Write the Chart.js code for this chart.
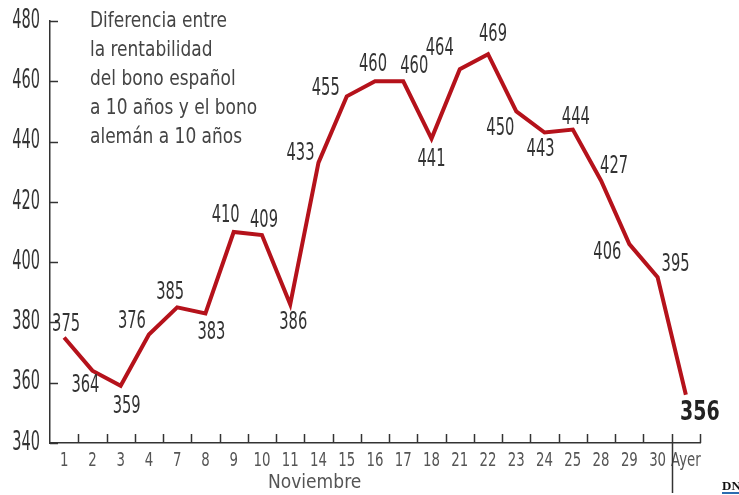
<!DOCTYPE html>
<html>
<head>
<meta charset="utf-8">
<script src="https://cdn.jsdelivr.net/npm/chart.js@4/dist/chart.umd.min.js"></script>
<style>
  html, body { margin: 0; padding: 0; background: #fff; }
  #wrap { position: relative; width: 739px; height: 495px; }
  .cond {
    position: absolute; white-space: nowrap; transform-origin: 0 0;
    font-family: 'DejaVu Sans Condensed', 'Liberation Sans Narrow', sans-serif;
  }
  #nota { left: 90px; top: 6px; font-size: 21px; line-height: 29px; color: #444; transform: scaleX(0.9); }
  #mes { left: 268px; top: 469px; font-size: 20px; color: #555; transform: scaleX(0.95); }
  #logo {
    position: absolute; left: 722px; top: 479px;
    font-family: 'Liberation Serif', serif; font-weight: bold; font-size: 13px;
    color: #111; border-bottom: 2px solid #2b6cb0; line-height: 13px;
  }
</style>
</head>
<body>
<div id="wrap">
  <canvas id="chart" width="739" height="495"></canvas>
  <div id="nota" class="cond">Diferencia entre<br>la rentabilidad<br>del bono español<br>a 10 años y el bono<br>alemán a 10 años</div>
  <div id="mes" class="cond">Noviembre</div>
  <div id="logo">DN</div>
</div>
<script>
const dias = ['1','2','3','4','7','8','9','10','11','14','15','16','17','18','21','22','23','24','25','28','29','30','Ayer'];
const diferencial = [375,364,359,376,385,383,410,409,386,433,455,460,460,441,464,469,450,443,444,427,406,395,356];
const yTicks = [340,360,380,400,420,440,460,480];

// desplazamiento de cada etiqueta respecto a su punto
const labelOffsets = [
  [2,-13],[-7,15],[6,21],[-17,-13],[-7,-15],[6,19],[-8,-16],[2,-14],[3,18],[-18,-9],
  [-21,-8],[-2,-17],[11,-15],[0,21],[-20,-20],[5,-19],[-16,17],[-4,17],[3,-12],[13,-14],
  [-22,9],[18,-12],[14,18]
];

const FONT = "'DejaVu Sans Condensed', 'Liberation Sans Narrow', sans-serif";
const ROJO = '#b5121b';

// texto estrechado (la fuente original es muy condensada)
function condText(ctx, txt, x, y, font, color, sx, align) {
  ctx.save();
  ctx.font = font;
  ctx.fillStyle = color;
  ctx.textAlign = align;
  ctx.textBaseline = 'middle';
  ctx.translate(x, y);
  ctx.scale(sx, 1);
  ctx.fillText(txt, 0, 0);
  ctx.restore();
}

const decor = {
  id: 'decor',
  afterDatasetsDraw(chart) {
    const ctx = chart.ctx;
    const x = chart.scales.x, y = chart.scales.y;
    const area = chart.chartArea;
    ctx.save();
    ctx.strokeStyle = '#333';
    ctx.lineWidth = 1.5;
    // ticks y hacia dentro + etiquetas
    y.ticks.forEach((t, i) => {
      const py = y.getPixelForTick(i);
      ctx.beginPath();
      ctx.moveTo(area.left, Math.round(py) + 0.5);
      ctx.lineTo(area.left + 8, Math.round(py) + 0.5);
      ctx.stroke();
      condText(ctx, String(t.value), 40, py, '26px ' + FONT, '#333', 0.62, 'right');
    });
    // ticks x entre categorias + etiquetas
    const w = (x.getPixelForValue(1) - x.getPixelForValue(0));
    for (let i = 1; i <= dias.length; i++) {
      const px = Math.round(x.getPixelForValue(i) - w / 2) + 0.5;
      ctx.beginPath();
      ctx.moveTo(px, area.bottom - 9);
      ctx.lineTo(px, area.bottom);
      ctx.stroke();
    }
    dias.forEach((d, i) => {
      condText(ctx, d, x.getPixelForValue(i), area.bottom + 18, '20px ' + FONT, '#555', 0.74, 'center');
    });
    // separador de "Ayer"
    const sep = Math.round(x.getPixelForValue(dias.length - 1) - w / 2) + 0.5;
    ctx.beginPath();
    ctx.moveTo(sep, area.bottom);
    ctx.lineTo(sep, area.bottom + 50);
    ctx.stroke();

    // etiquetas de valores
    const meta = chart.getDatasetMeta(0);
    meta.data.forEach((pt, i) => {
      const last = i === diferencial.length - 1;
      const [dx, dy] = labelOffsets[i];
      if (last) condText(ctx, String(diferencial[i]), pt.x + dx, pt.y + dy, 'bold 27px ' + FONT, '#222', 0.78, 'center');
      else condText(ctx, String(diferencial[i]), pt.x + dx, pt.y + dy, '24px ' + FONT, '#333', 0.68, 'center');
    });
    ctx.restore();
  }
};

new Chart(document.getElementById('chart'), {
  type: 'line',
  data: {
    labels: dias,
    datasets: [{
      data: diferencial,
      borderColor: ROJO,
      borderWidth: 4,
      pointRadius: 0,
      tension: 0,
      borderJoinStyle: 'miter',
      borderCapStyle: 'butt'
    }]
  },
  options: {
    responsive: false,
    animation: false,
    layout: { padding: { top: 21, right: 39, left: 0, bottom: 0 } },
    plugins: { legend: { display: false }, tooltip: { enabled: false } },
    scales: {
      x: {
        offset: true,
        grid: { display: false },
        border: { color: '#333', width: 1.5 },
        ticks: { display: false },
        afterFit: s => { s.height = 52; }
      },
      y: {
        min: 340, max: 480,
        afterBuildTicks: s => { s.ticks = yTicks.map(v => ({ value: v })); },
        grid: { display: false },
        border: { color: '#333', width: 1.5 },
        ticks: { display: false },
        afterFit: s => { s.width = 50; }
      }
    }
  },
  plugins: [decor]
});
</script>
</body>
</html>
